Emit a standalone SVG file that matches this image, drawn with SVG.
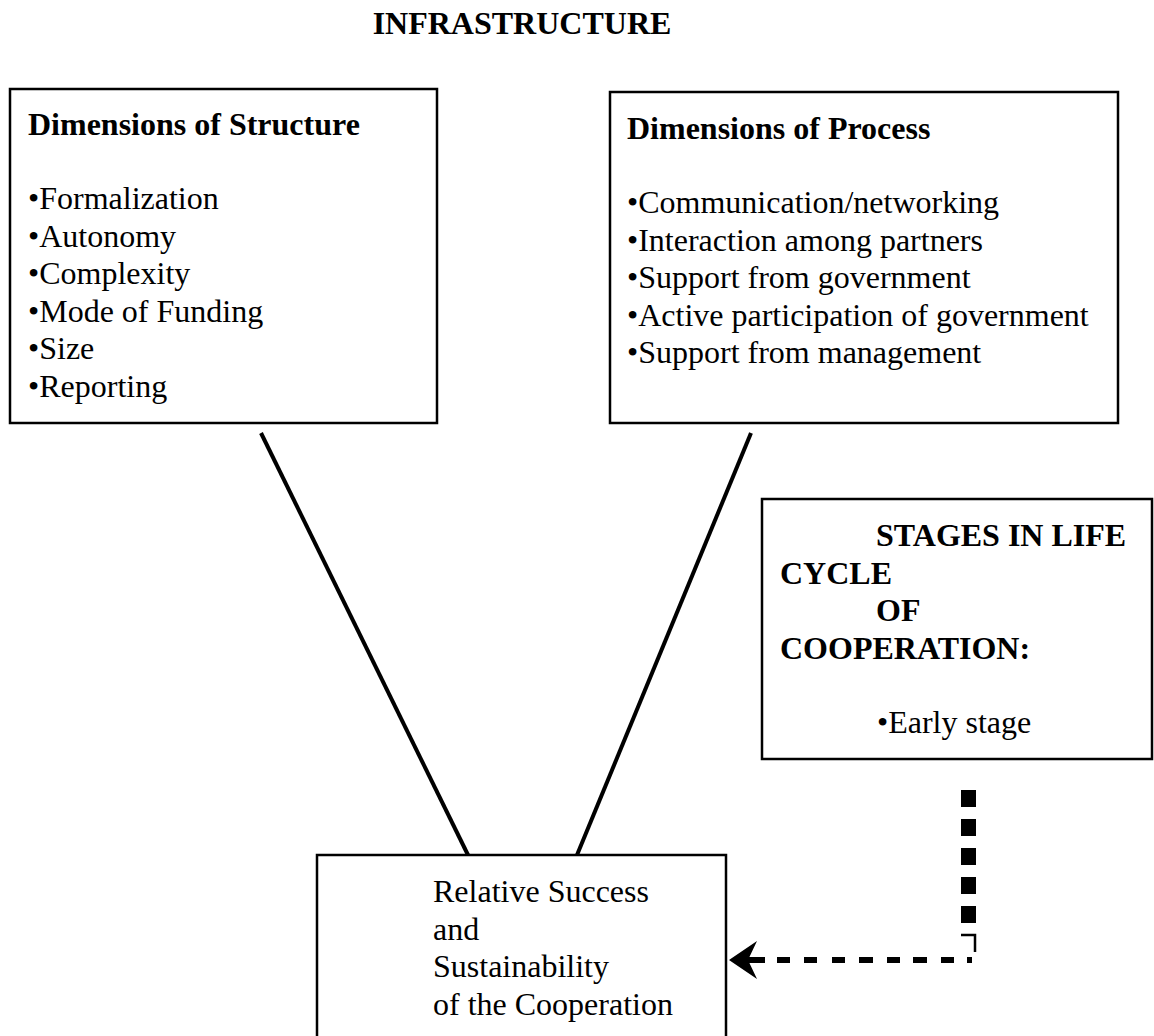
<svg xmlns="http://www.w3.org/2000/svg" width="1154" height="1036" viewBox="0 0 1154 1036">
<style>
.box{fill:#fff;stroke:#000;stroke-width:2.5}
.t{font-family:"Liberation Serif","Times New Roman",serif;font-size:32px;fill:#000}
.b{font-weight:bold}
.ln{stroke:#000;stroke-width:4;fill:none}
</style>
<rect width="1154" height="1036" fill="#fff"/>
<g id="title">
<text class="t b" x="522" y="34" text-anchor="middle" font-size="31">INFRASTRUCTURE</text>
</g>
<g id="structure">
<rect class="box" x="10" y="89" width="427" height="334"/>
<text class="t b" x="28" y="135">Dimensions of Structure</text>
<text class="t" x="28" y="209">•Formalization</text>
<text class="t" x="28" y="246.5">•Autonomy</text>
<text class="t" x="28" y="284">•Complexity</text>
<text class="t" x="28" y="321.5">•Mode of Funding</text>
<text class="t" x="28" y="359">•Size</text>
<text class="t" x="28" y="396.5">•Reporting</text>
</g>
<g id="process">
<rect class="box" x="610" y="92" width="508" height="331"/>
<text class="t b" x="627" y="139">Dimensions of Process</text>
<text class="t" x="627" y="213">•Communication/networking</text>
<text class="t" x="627" y="250.5">•Interaction among partners</text>
<text class="t" x="627" y="288">•Support from government</text>
<text class="t" x="627" y="325.5">•Active participation of government</text>
<text class="t" x="627" y="363">•Support from management</text>
</g>
<g id="stages">
<rect class="box" x="762" y="499" width="390" height="260"/>
<text class="t b" x="876" y="546">STAGES IN LIFE</text>
<text class="t b" x="780" y="583.5">CYCLE</text>
<text class="t b" x="876" y="621">OF</text>
<text class="t b" x="780" y="658.5">COOPERATION:</text>
<text class="t" x="877" y="733">•Early stage</text>
</g>
<g id="outcome">
<rect class="box" x="317" y="855" width="409" height="200"/>
<text class="t" x="433" y="902">Relative Success</text>
<text class="t" x="433" y="939.5">and</text>
<text class="t" x="433" y="977">Sustainability</text>
<text class="t" x="433" y="1014.5">of the Cooperation</text>
</g>
<g id="connectors">
<line class="ln" x1="261" y1="433" x2="468" y2="855"/>
<line class="ln" x1="751" y1="433" x2="577" y2="855"/>
<line x1="968.5" y1="790" x2="968.5" y2="923" stroke="#000" stroke-width="15" stroke-dasharray="17 12"/>
<path d="M961,935 H975 V952" fill="none" stroke="#000" stroke-width="2.5"/>
<path d="M748,960 H765 M777,960 H790 M804,960 H817 M832,960 H845 M859,960 H873 M887,960 H900 M913,960 H927 M941,960 H954 M967,960 H972" fill="none" stroke="#000" stroke-width="6"/>
<polygon points="729,960 757,941 748,960 757,979" fill="#000"/>
</g>
</svg>
